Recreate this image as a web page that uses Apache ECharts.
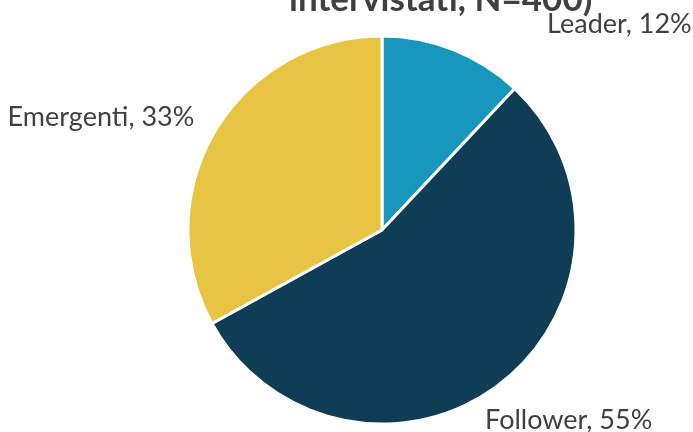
<!DOCTYPE html>
<html>
<head>
<meta charset="utf-8">
<script src="https://cdn.jsdelivr.net/npm/echarts@6/dist/echarts.min.js"></script>
<style>html,body{margin:0;padding:0;background:#fff}#c{width:693px;height:432px}</style>
</head>
<body>
<div id="c"></div>
<script>
const titleText = 'intervistati, N=400)';
const categories = ['Leader', 'Follower', 'Emergenti'];
const values = [12, 55, 33];
const colors = ['#1797BD', '#0F3D56', '#E8C443'];

const labelShift = {Leader: [75, -16], Follower: [-37, 29], Emergenti: [3, -9]};

const chart = echarts.init(document.getElementById('c'), null, {renderer: 'canvas'});
chart.setOption({
  animation: false,
  backgroundColor: '#ffffff',
  title: {
    text: titleText,
    left: 284,
    top: -23,
    textStyle: {fontFamily: 'Lato', fontWeight: 'bold', fontSize: 35, color: '#404040'}
  },
  series: [{
    type: 'pie',
    center: [382, 230],
    radius: [0, 194],
    startAngle: 90,
    clockwise: true,
    data: categories.map((c, i) => ({name: c, value: values[i], itemStyle: {color: colors[i]}})),
    itemStyle: {borderColor: '#ffffff', borderWidth: 3},
    label: {
      show: true,
      position: 'outside',
      formatter: p => p.name + ', ' + p.value + '%',
      fontFamily: 'Lato',
      fontSize: 27,
      color: '#404040',
      overflow: 'none'
    },
    labelLine: {show: false, length: 10, length2: 10},
    labelLayout: p => {
      const s = labelShift[categories[p.dataIndex]];
      return {dx: s[0], dy: s[1]};
    },
    emphasis: {disabled: true}
  }]
});
</script>
</body>
</html>
